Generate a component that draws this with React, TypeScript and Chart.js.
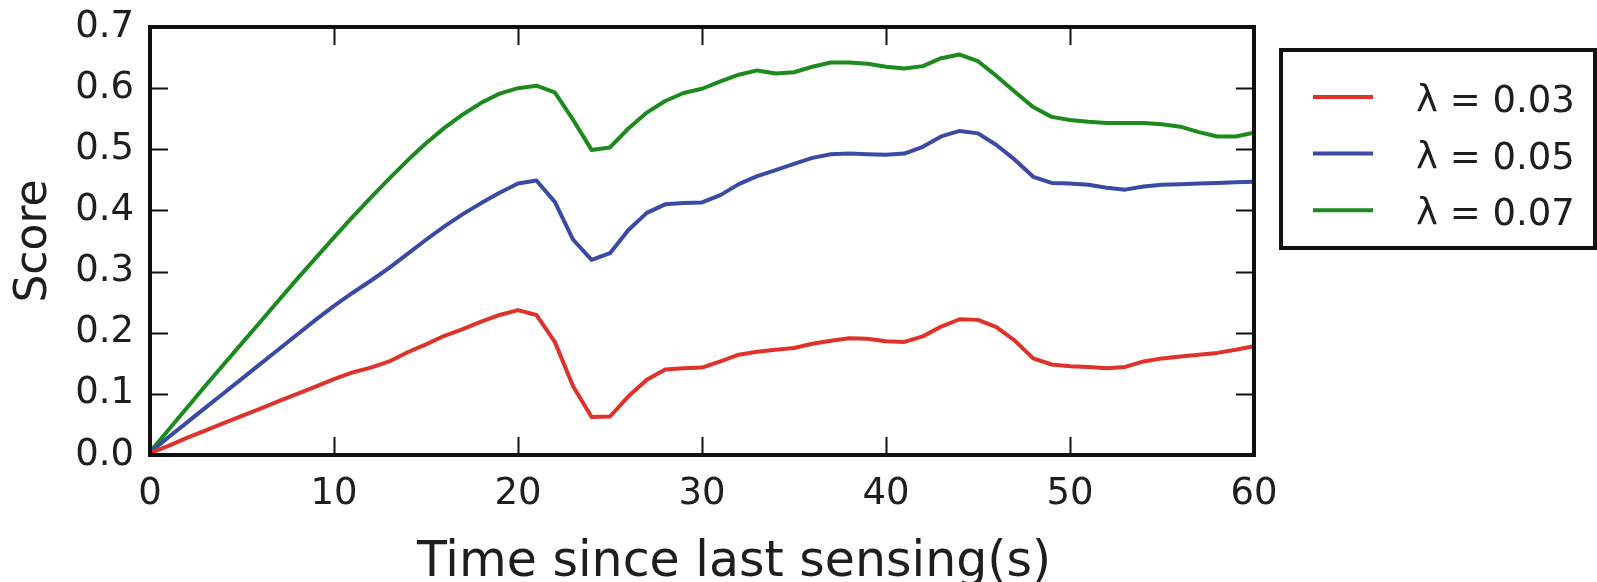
import React, { useEffect, useRef } from "react";
import { Chart, registerables } from "chart.js";

Chart.register(...registerables);

const timeSec = [
  0, 1, 2, 3, 4, 5, 6, 7, 8, 9, 10, 11, 12, 13, 14, 15, 16, 17, 18, 19, 20,
  21, 22, 23, 24, 25, 26, 27, 28, 29, 30, 31, 32, 33, 34, 35, 36, 37, 38, 39, 40,
  41, 42, 43, 44, 45, 46, 47, 48, 49, 50, 51, 52, 53, 54, 55, 56, 57, 58, 59, 60,
];

const scoreL003 = [
  0.003, 0.015, 0.028, 0.04, 0.052, 0.064, 0.076, 0.088, 0.1, 0.112, 0.124,
  0.135, 0.143, 0.153, 0.168, 0.181, 0.195, 0.206, 0.218, 0.229, 0.237,
  0.229, 0.185, 0.112, 0.062, 0.063, 0.096, 0.123, 0.14, 0.142, 0.143,
  0.153, 0.164, 0.169, 0.172, 0.175, 0.182, 0.187, 0.191, 0.19, 0.186,
  0.185, 0.194, 0.21, 0.222, 0.221, 0.209, 0.187, 0.158, 0.148, 0.145,
  0.144, 0.142, 0.144, 0.153, 0.158, 0.161, 0.164, 0.167, 0.172, 0.178,
];

const scoreL005 = [
  0.004, 0.029, 0.053, 0.077, 0.101, 0.125, 0.149, 0.173, 0.197, 0.221, 0.244,
  0.265, 0.285, 0.306, 0.329, 0.352, 0.374, 0.394, 0.412, 0.429, 0.444,
  0.449, 0.414, 0.352, 0.319, 0.33, 0.368, 0.396, 0.41, 0.412, 0.413,
  0.425, 0.443, 0.456, 0.466, 0.476, 0.486, 0.492, 0.493, 0.492, 0.491,
  0.493, 0.504, 0.521, 0.53, 0.526, 0.507, 0.483, 0.455, 0.445, 0.444,
  0.442, 0.437, 0.434, 0.439, 0.442, 0.443, 0.444, 0.445, 0.446, 0.447,
];

const scoreL007 = [
  0.005, 0.041, 0.077, 0.113, 0.148, 0.183, 0.218, 0.253, 0.288, 0.322, 0.356,
  0.389, 0.421, 0.452, 0.482, 0.51, 0.535, 0.557, 0.576, 0.591, 0.6,
  0.604, 0.593, 0.548, 0.499, 0.503, 0.534, 0.56, 0.579, 0.592, 0.599,
  0.611, 0.622, 0.629, 0.624, 0.626, 0.635, 0.642, 0.642, 0.64, 0.635,
  0.632, 0.636, 0.649, 0.655, 0.644, 0.62, 0.594, 0.569, 0.553, 0.548,
  0.545, 0.543, 0.543, 0.543, 0.541, 0.537, 0.528, 0.521, 0.521, 0.527,
];

const seriesLabels = ["λ = 0.03", "λ = 0.05", "λ = 0.07"];
const seriesColors = ["#e0322b", "#3a4aa6", "#1d8a1d"];
const xTitle = "Time since last sensing(s)";
const yTitle = "Score";

const FONT = "'DejaVu Sans', sans-serif";
const INK = "#1e1e1e";

const framePlugin = {
  id: "mplFrame",
  afterDatasetsDraw(chart: any) {
    const { ctx, chartArea: a, scales } = chart;
    const tick = 18;
    ctx.save();
    ctx.strokeStyle = "#111";
    ctx.lineWidth = 2;
    ctx.beginPath();
    scales.x.ticks.forEach((t: any) => {
      const px = Math.round(scales.x.getPixelForValue(t.value)) + 0.5;
      ctx.moveTo(px, a.bottom);
      ctx.lineTo(px, a.bottom - tick);
      ctx.moveTo(px, a.top);
      ctx.lineTo(px, a.top + tick);
    });
    scales.y.ticks.forEach((t: any) => {
      const py = Math.round(scales.y.getPixelForValue(t.value)) + 0.5;
      ctx.moveTo(a.left, py);
      ctx.lineTo(a.left + tick, py);
      ctx.moveTo(a.right, py);
      ctx.lineTo(a.right - tick, py);
    });
    ctx.stroke();
    ctx.lineWidth = 4;
    ctx.strokeStyle = "#111";
    ctx.strokeRect(a.left, a.top, a.right - a.left, a.bottom - a.top);

    // x-axis title
    ctx.fillStyle = INK;
    ctx.font = `49px ${FONT}`;
    ctx.textAlign = "center";
    ctx.textBaseline = "alphabetic";
    ctx.fillText(xTitle, (a.left + a.right) / 2 + 32, 576);

    // legend
    const lx = a.right + 27;
    const ly = 50;
    ctx.lineWidth = 4;
    ctx.strokeRect(lx, ly, chart.width - 2 - lx, 198);
    ctx.font = `37px ${FONT}`;
    ctx.textAlign = "left";
    chart.data.datasets.forEach((ds: any, i: number) => {
      const yLine = 97 + i * 56.6;
      ctx.strokeStyle = ds.borderColor;
      ctx.lineWidth = 4;
      ctx.beginPath();
      ctx.moveTo(lx + 32, yLine);
      ctx.lineTo(lx + 92, yLine);
      ctx.stroke();
      ctx.fillStyle = INK;
      ctx.fillText(ds.label, lx + 135, 112 + i * 56.5);
    });
    ctx.restore();
  },
};

export default function App() {
  const ref = useRef<HTMLCanvasElement | null>(null);

  useEffect(() => {
    document.body.style.margin = "0";
    const canvas = ref.current;
    if (!canvas) return;
    const datasets = [scoreL003, scoreL005, scoreL007].map((vals, i) => ({
      label: seriesLabels[i],
      data: timeSec.map((t, j) => ({ x: t, y: vals[j] })),
      borderColor: seriesColors[i],
      backgroundColor: seriesColors[i],
      borderWidth: 4,
      pointRadius: 0,
      tension: 0,
      borderJoinStyle: "round" as const,
    }));
    const chart = new Chart(canvas, {
      type: "line",
      data: { datasets },
      plugins: [framePlugin],
      options: {
        animation: false,
        responsive: false,
        maintainAspectRatio: false,
        layout: { padding: { top: 27, right: 343, left: 0, bottom: 0 } },
        plugins: { legend: { display: false }, tooltip: { enabled: false } },
        scales: {
          x: {
            type: "linear",
            min: 0,
            max: 60,
            grid: { display: false },
            border: { display: false },
            ticks: {
              stepSize: 10,
              padding: 9,
              color: INK,
              font: { family: FONT, size: 37 },
              maxRotation: 0,
            },
            afterFit: (s: any) => {
              s.height = 127;
              s.paddingLeft = 0;
              s.paddingRight = 0;
            },
          },
          y: {
            type: "linear",
            min: 0,
            max: 0.7,
            grid: { display: false },
            border: { display: false },
            ticks: {
              stepSize: 0.1,
              padding: 8,
              color: INK,
              font: { family: FONT, size: 37 },
              callback: (v: any) => Number(v).toFixed(1),
            },
            title: {
              display: true,
              text: yTitle,
              color: INK,
              font: { family: FONT, size: 44 },
              padding: { top: 8, bottom: 0 },
            },
            afterFit: (s: any) => {
              s.width = 150;
              s.paddingTop = 0;
              s.paddingBottom = 0;
            },
          },
        },
      },
    });
    return () => chart.destroy();
  }, []);

  return (
    <canvas
      ref={ref}
      width={1597}
      height={582}
      style={{ display: "block", width: 1597, height: 582 }}
    />
  );
}
